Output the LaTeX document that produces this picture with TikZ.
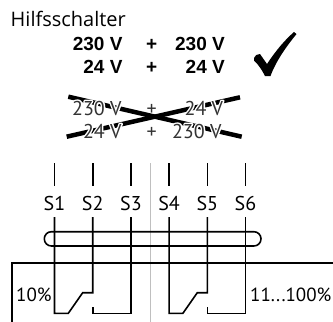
\documentclass[tikz,border=0pt]{standalone}
\usepackage{fontspec}
\setmainfont{Liberation Sans}
\newfontfamily\titlefont{Open Sans}
\newfontfamily\labfont{PT Sans}
\usepackage{xcolor}
\usepackage{tikz}
% white outline under crossed-out text
\newcommand\halo[1]{\rlap{\special{pdf:literal direct 1 Tr 2.8 w 1 j 1 1 1 RG}#1\special{pdf:literal direct 0 Tr}}#1}

\begin{document}
\begin{tikzpicture}[x=1pt, y=-1pt, inner sep=0pt,
    wire/.style={line width=1.6pt},
    frame/.style={line width=2.2pt},
    volt/.style={font=\fontsize{19}{19}\selectfont\bfseries, anchor=base east},
    nogo/.style={font=\labfont\fontsize{20}{20}\selectfont, text=black!80, anchor=base east},
    lab/.style={font=\labfont\fontsize{20}{20}\selectfont},
    pctlab/.style={font=\labfont\fontsize{19}{19}\selectfont, anchor=base west}]
    \useasboundingbox (0,0) rectangle (333,322);
    \node[font=\titlefont\fontsize{20}{20}\selectfont, anchor=base west] (title) at (10.5,26) {Hilfsschalter};
    % allowed combinations
    \node[volt] (ok1a) at (122.7,50) {230 V};
    \node[volt, anchor=base] (ok1p) at (151.7,50) {+};
    \node[volt] (ok1b) at (225,50) {230 V};
    \node[volt] (ok2a) at (122.7,73.3) {24 V};
    \node[volt, anchor=base] (ok2p) at (151.7,73.3) {+};
    \node[volt] (ok2b) at (225,73.3) {24 V};
    \fill (254,58) .. controls (256.5,54.5) .. (260,54) -- (267,64) .. controls (277,49) and (285,40) .. (294,32)
        -- (296.5,34) .. controls (286,47) and (276,61) .. (270.5,76) -- (265,76)
        .. controls (262,70) and (258,64) .. (254,60.5) -- cycle;
    % not allowed
    \draw[line width=4.5pt] (68.3,96.7) -- (241.7,136.7);
    \draw[line width=4.5pt] (66.7,136.7) -- (240,97.3);
    \node[nogo] (no1a) at (121.7,115) {\halo{230 V}};
    \node[nogo, anchor=base] (no1p) at (151.7,115) {+};
    \node[nogo] (no1b) at (223.3,115) {\halo{24 V}};
    \node[nogo] (no2a) at (121.7,138) {\halo{24 V}};
    \node[nogo, anchor=base] (no2p) at (151.7,138) {+};
    \node[nogo] (no2b) at (221.7,138) {\halo{230 V}};
    % switch
    \draw[black!25, line width=0.7pt] (150.7,163) -- (150.7,322);
    \draw[frame] (11.7,322) -- (11.7,263.3) -- (333,263.3);
    \draw[wire, rounded corners=7.1pt] (44.3,231.7) rectangle (261,246);
    \foreach \i in {1,...,6} {
        \node[lab, anchor=base] (s\i) at ({54.5+38.2*(\i-1)},210) {S\i};
        \draw[wire] (s\i.north) ++(0,-10) -- ++(0,-23);
    }
    \foreach \g in {0,1} {
        \pgfmathsetmacro\a{54.5+114.6*\g}
        \draw[wire] (\a,217) -- (\a,313.3) -- (\a+13.8,313.3) -- (\a+28.2,292.7) -- (\a+38.2,292.7) -- (\a+38.2,217);
        \draw[wire] (\a+38.2,307.3) -- (\a+38.2,313.3) -- (\a+76.4,313.3) -- (\a+76.4,217);
    }
    \node[pctlab] (low) at (16,301) {10\%};
    \node[pctlab] (high) at (250,301) {11...100\%};
\end{tikzpicture}
\end{document}
